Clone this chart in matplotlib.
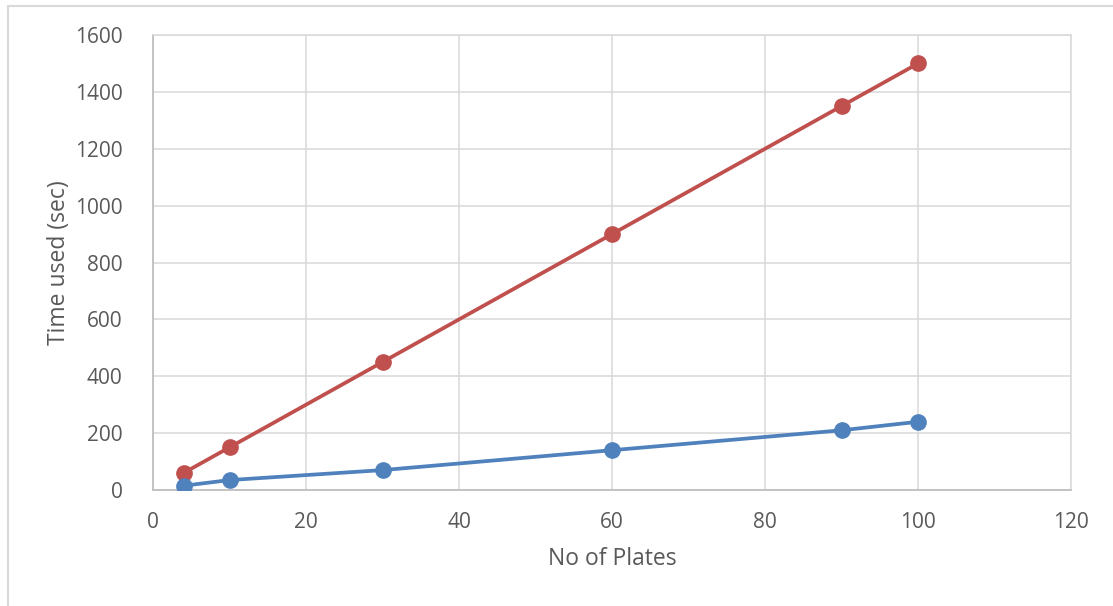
import matplotlib.pyplot as plt
from matplotlib.patches import Rectangle

plates = [4, 10, 30, 60, 90, 100]
time_red = [60, 150, 450, 900, 1350, 1500]
time_blue = [15, 35, 70, 140, 210, 240]

plt.rcParams['font.family'] = ['Open Sans', 'DejaVu Sans']

fig = plt.figure(figsize=(11.13, 6.06), dpi=100)
ax = fig.add_axes([0.1375, 0.1914, 0.8248, 0.7508])

# light frame around the chart area
fig.patches.append(Rectangle((8 / 1113, -0.05), 1.2, 1 - 6 / 606 + 0.05,
                             transform=fig.transFigure, fill=False,
                             edgecolor='#d9d9d9', linewidth=1.5))

ax.plot(plates, time_red, color='#c0504d', linewidth=2.7, marker='o',
        markersize=11, zorder=3)
ax.plot(plates, time_blue, color='#4f81bd', linewidth=2.7, marker='o',
        markersize=11, zorder=3)

ax.set_xlim(0, 120)
ax.set_ylim(0, 1600)
ax.set_xticks(range(0, 121, 20))
ax.set_yticks(range(0, 1601, 200))
ax.grid(True, color='#d9d9d9', linewidth=1.1)
ax.set_axisbelow(True)
for side in ['top', 'right']:
    ax.spines[side].set_color('#d9d9d9')
    ax.spines[side].set_linewidth(1.1)
for side in ['left', 'bottom']:
    ax.spines[side].set_color('#bfbfbf')
    ax.spines[side].set_linewidth(1.3)
ax.tick_params(length=0, labelsize=15, labelcolor='#595959')
ax.tick_params(axis='y', pad=22)
ax.tick_params(axis='x', pad=16)

ax.set_xlabel('No of Plates', fontsize=16.5, color='#595959', labelpad=10)
ax.set_ylabel('Time used (sec)', fontsize=16.5, color='#595959', labelpad=3)

fig.savefig('out.png', dpi=100)
